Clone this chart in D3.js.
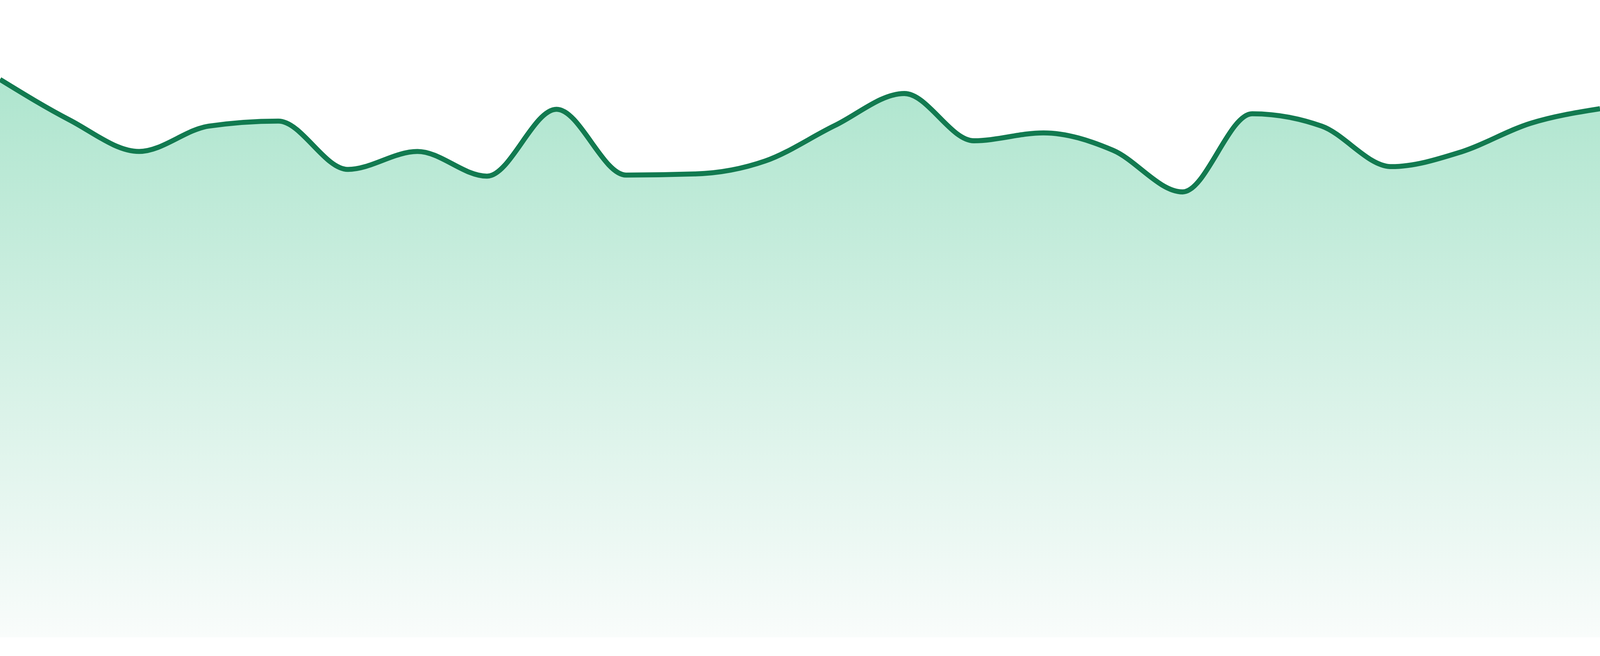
<!DOCTYPE html>
<html>
<head>
<meta charset="utf-8">
<script src="https://cdn.jsdelivr.net/npm/d3@7"></script>
<style>
  html, body { margin: 0; padding: 0; background: #fff; overflow: hidden; }
  svg { display: block; }
</style>
</head>
<body>
<div id="container"></div>
<script>
// chart size: fill the window, everything is laid out for a 4800x1680 frame
const width = window.innerWidth || 4800,
height = window.innerHeight || 1680,
k = width / 4800,
margin = {top: 192 * height / 1680, bottom: 48 * height / 1680, left: 0, right: 0};

// data
const hours = d3.range(24).map(h => String(h).padStart(2, "0") + ":00");
const values = [99.2, 92.0, 86.4, 90.9, 91.8, 83.2, 86.4, 82.0, 93.9, 82.2, 82.4, 84.7,
                91.0, 96.7, 88.3, 89.7, 86.6, 79.2, 93.1, 90.9, 83.7, 86.3, 91.4, 94.0];
const yDomain = [0, 100];

const data = hours.map((h, i) => ({hour: h, value: values[i]}));

// scales
const xScale = d3.scalePoint()
  .domain(hours)
  .range([margin.left, width - margin.right]);

const yScale = d3.scaleLinear()
  .domain(yDomain)
  .range([height - margin.bottom, margin.top]);

const svg = d3.select("#container").append("svg")
  .attr("width", width)
  .attr("height", height);

// gradient under the line
const grad = svg.append("defs").append("linearGradient")
  .attr("id", "fillGrad")
  .attr("gradientUnits", "userSpaceOnUse")
  .attr("x1", 0).attr("x2", 0)
  .attr("y1", yScale(100)).attr("y2", yScale(0));
grad.append("stop").attr("offset", "0%").attr("stop-color", "#aee5ce");
grad.append("stop").attr("offset", "100%").attr("stop-color", "#f9fcfb");

const area = d3.area()
  .x(d => xScale(d.hour))
  .y0(yScale(0))
  .y1(d => yScale(d.value))
  .curve(d3.curveMonotoneX);

const line = d3.line()
  .x(d => xScale(d.hour))
  .y(d => yScale(d.value))
  .curve(d3.curveMonotoneX);

svg.append("path")
  .datum(data)
  .attr("d", area)
  .attr("fill", "url(#fillGrad)");

svg.append("path")
  .datum(data)
  .attr("d", line)
  .attr("fill", "none")
  .attr("stroke", "#127a50")
  .attr("stroke-width", 15 * k)
  .attr("stroke-linejoin", "round");
</script>
</body>
</html>
